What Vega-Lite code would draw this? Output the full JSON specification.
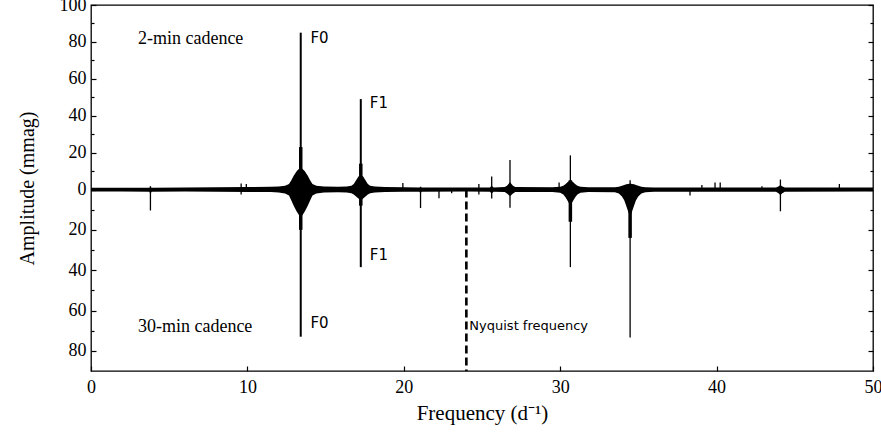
{
  "$schema": "https://vega.github.io/schema/vega-lite/v6.json",
  "width": 782,
  "height": 366,
  "autosize": "none",
  "padding": {"left": 91, "top": 5, "right": 8, "bottom": 63},
  "background": "white",
  "config": {
    "view": {"stroke": "black", "strokeWidth": 1.3},
    "axis": {
      "labelFont": "Liberation Serif, Times New Roman, Times, serif",
      "titleFont": "Liberation Serif, Times New Roman, Times, serif",
      "labelFontSize": 18,
      "titleFontSize": 20,
      "titleFontWeight": "normal",
      "labelColor": "black",
      "titleColor": "black",
      "tickColor": "black",
      "tickWidth": 1.2,
      "domain": false,
      "grid": false,
      "labelFlush": false,
      "labelOverlap": false
    }
  },
  "datasets": {
    "band": [
      {"f": 0, "hi": 1, "lo": -1}, {"f": 2, "hi": 1, "lo": -1}, {"f": 3.72, "hi": 1, "lo": -1.1},
      {"f": 3.8, "hi": 1.4, "lo": -2}, {"f": 3.88, "hi": 1, "lo": -1.1}, {"f": 6, "hi": 1.1, "lo": -1},
      {"f": 8, "hi": 1.2, "lo": -1.1}, {"f": 10, "hi": 1.3, "lo": -1.2}, {"f": 11.5, "hi": 1.5, "lo": -1.3},
      {"f": 12.0, "hi": 1.6, "lo": -1.5}, {"f": 12.41, "hi": 2, "lo": -2}, {"f": 12.66, "hi": 3, "lo": -3},
      {"f": 12.81, "hi": 5, "lo": -5.5}, {"f": 12.96, "hi": 7.5, "lo": -8}, {"f": 13.16, "hi": 10, "lo": -11},
      {"f": 13.41, "hi": 12, "lo": -14}, {"f": 13.66, "hi": 10, "lo": -11}, {"f": 13.86, "hi": 7.5, "lo": -8},
      {"f": 14.01, "hi": 5, "lo": -5.5}, {"f": 14.16, "hi": 3, "lo": -3}, {"f": 14.41, "hi": 2, "lo": -2},
      {"f": 14.9, "hi": 1.6, "lo": -1.5}, {"f": 15.8, "hi": 1.5, "lo": -1.4},
      {"f": 16.35, "hi": 1.6, "lo": -1.5}, {"f": 16.65, "hi": 2, "lo": -1.8}, {"f": 16.8, "hi": 3, "lo": -2.5},
      {"f": 16.95, "hi": 5, "lo": -3.5}, {"f": 17.1, "hi": 7, "lo": -4.5}, {"f": 17.25, "hi": 8, "lo": -5.5},
      {"f": 17.4, "hi": 7, "lo": -4.5}, {"f": 17.55, "hi": 5, "lo": -3.5}, {"f": 17.7, "hi": 3, "lo": -2.5},
      {"f": 17.85, "hi": 2, "lo": -1.8}, {"f": 18.15, "hi": 1.6, "lo": -1.5}, {"f": 18.8, "hi": 1.4, "lo": -1.3},
      {"f": 20, "hi": 1.2, "lo": -1.1}, {"f": 21, "hi": 1.1, "lo": -1.1}, {"f": 21.07, "hi": 1.4, "lo": -1.8},
      {"f": 21.14, "hi": 1.1, "lo": -1.1}, {"f": 24, "hi": 1.1, "lo": -1}, {"f": 25.5, "hi": 1.1, "lo": -1.1},
      {"f": 25.62, "hi": 2, "lo": -2}, {"f": 25.74, "hi": 1.1, "lo": -1.1}, {"f": 26.45, "hi": 1.3, "lo": -1.3},
      {"f": 26.6, "hi": 2, "lo": -2}, {"f": 26.72, "hi": 3.2, "lo": -2.8}, {"f": 26.79, "hi": 4, "lo": -3.2},
      {"f": 26.86, "hi": 3.2, "lo": -2.8}, {"f": 26.98, "hi": 2, "lo": -2}, {"f": 27.13, "hi": 1.3, "lo": -1.3},
      {"f": 29.5, "hi": 1.2, "lo": -1.3}, {"f": 30.0, "hi": 1.5, "lo": -1.6}, {"f": 30.2, "hi": 2, "lo": -2.5},
      {"f": 30.35, "hi": 3, "lo": -4}, {"f": 30.5, "hi": 4.2, "lo": -6}, {"f": 30.65, "hi": 5, "lo": -8},
      {"f": 30.8, "hi": 4.2, "lo": -6}, {"f": 30.95, "hi": 3, "lo": -4}, {"f": 31.1, "hi": 2, "lo": -2.5},
      {"f": 31.3, "hi": 1.5, "lo": -1.6}, {"f": 31.8, "hi": 1.2, "lo": -1.3},
      {"f": 33.5, "hi": 1.2, "lo": -1.4}, {"f": 33.75, "hi": 1.5, "lo": -2}, {"f": 33.95, "hi": 2, "lo": -3.5},
      {"f": 34.1, "hi": 2.5, "lo": -5.5}, {"f": 34.22, "hi": 2.8, "lo": -8}, {"f": 34.35, "hi": 3, "lo": -11},
      {"f": 34.47, "hi": 3.2, "lo": -13.5}, {"f": 34.59, "hi": 3, "lo": -11}, {"f": 34.72, "hi": 2.8, "lo": -8},
      {"f": 34.84, "hi": 2.5, "lo": -5.5}, {"f": 34.99, "hi": 2, "lo": -3.5}, {"f": 35.19, "hi": 1.5, "lo": -2},
      {"f": 35.45, "hi": 1.2, "lo": -1.4}, {"f": 36, "hi": 1.1, "lo": -1.1},
      {"f": 43.8, "hi": 1.1, "lo": -1.1}, {"f": 43.98, "hi": 1.8, "lo": -2}, {"f": 44.08, "hi": 2.5, "lo": -2.8},
      {"f": 44.18, "hi": 1.8, "lo": -2}, {"f": 44.36, "hi": 1.1, "lo": -1.1},
      {"f": 50, "hi": 1.1, "lo": -1}
    ],
    "spikes": [
      {"f": 3.8, "amp": 1.8}, {"f": 9.6, "amp": 3.3}, {"f": 9.93, "amp": 3}, {"f": 19.94, "amp": 3.5},
      {"f": 21.07, "amp": 1.5}, {"f": 24.8, "amp": 3}, {"f": 25.62, "amp": 7}, {"f": 26.79, "amp": 16},
      {"f": 29.93, "amp": 3.8}, {"f": 30.65, "amp": 18.5}, {"f": 34.47, "amp": 5}, {"f": 39.06, "amp": 2.5},
      {"f": 39.9, "amp": 3.8}, {"f": 40.23, "amp": 3.8}, {"f": 42.9, "amp": 1.8}, {"f": 44.08, "amp": 5.4},
      {"f": 47.85, "amp": 3}, {"f": 9.6, "amp": -2.5},
      {"f": 3.8, "amp": -10.4}, {"f": 21.07, "amp": -9.2}, {"f": 22.25, "amp": -4.3}, {"f": 23.06, "amp": -1.8},
      {"f": 24.8, "amp": -2.5}, {"f": 25.62, "amp": -4.5}, {"f": 26.79, "amp": -9}, {"f": 30.65, "amp": -38.5},
      {"f": 34.47, "amp": -73.4}, {"f": 38.3, "amp": -3}, {"f": 44.08, "amp": -10.8}
    ],
    "main": [
      {"f": 13.41, "amp": 85}, {"f": 13.41, "amp": -73}, {"f": 17.25, "amp": 49}, {"f": 17.25, "amp": -38.5}
    ],
    "core": [
      {"f": 13.41, "top": 23, "bot": -20}, {"f": 17.25, "top": 14, "bot": -8},
      {"f": 30.65, "top": 5, "bot": -16}, {"f": 34.47, "top": 3, "bot": -24}
    ],
    "nyquist": [{"f": 24, "top": 0, "bot": -90}],
    "cadence": [
      {"f": 3, "amp": 79, "label": "2-min cadence"},
      {"f": 3, "amp": -70.7, "label": "30-min cadence"}
    ],
    "modes": [
      {"f": 14.03, "amp": 79.5, "label": "F0"},
      {"f": 17.83, "amp": 44.3, "label": "F1"},
      {"f": 17.83, "amp": -34.9, "label": "F1"},
      {"f": 14.03, "amp": -68.8, "label": "F0"}
    ],
    "nyqlabel": [{"f": 24.19, "amp": -69.5, "label": "Nyquist frequency"}]
  },
  "resolve": {"axis": {"y": "independent"}},
  "layer": [
    {
      "data": {"name": "band"},
      "mark": {"type": "area", "color": "black", "interpolate": "linear"},
      "encoding": {
        "x": {
          "field": "f", "type": "quantitative",
          "scale": {"domain": [0, 50], "nice": false, "zero": false},
          "axis": {
            "values": [0, 10, 20, 30, 40, 50], "format": "d",
            "tickSize": -5, "labelPadding": 12,
            "title": "Frequency (d⁻¹)", "titlePadding": 6, "titleFontSize": 21
          }
        },
        "y": {
          "field": "hi", "type": "quantitative",
          "scale": {"type": "linear", "domain": [-90, 0, 100], "range": [366, 184.5, 0], "nice": false, "zero": false},
          "axis": {
            "orient": "left",
            "values": [-80, -70, -60, -50, -40, -30, -20, -10, 0, 10, 20, 30, 40, 50, 60, 70, 80, 90, 100],
            "tickSize": {"condition": {"test": "datum.value % 20 === 0", "value": -5}, "value": -3},
            "labelExpr": "datum.value % 20 === 0 ? '' + abs(datum.value) : ''",
            "labelPadding": 10,
            "title": "Amplitude (mmag)", "titlePadding": 22
          }
        },
        "y2": {"field": "lo"}
      }
    },
    {
      "data": {"name": "spikes"},
      "mark": {"type": "rule", "color": "black", "strokeWidth": 1.3},
      "encoding": {
        "x": {"field": "f", "type": "quantitative"},
        "y": {
          "field": "amp", "type": "quantitative",
          "scale": {"type": "linear", "domain": [-90, 0, 100], "range": [366, 184.5, 0], "nice": false, "zero": false},
          "axis": {
            "orient": "right",
            "values": [-80, -70, -60, -50, -40, -30, -20, -10, 0, 10, 20, 30, 40, 50, 60, 70, 80, 90, 100],
            "tickSize": {"condition": {"test": "datum.value % 20 === 0", "value": -5}, "value": -3},
            "labels": false, "title": null
          }
        },
        "y2": {"datum": 0}
      }
    },
    {
      "data": {"name": "main"},
      "mark": {"type": "rule", "color": "black", "strokeWidth": 2},
      "encoding": {
        "x": {"field": "f", "type": "quantitative"},
        "y": {"field": "amp", "type": "quantitative", "axis": null},
        "y2": {"datum": 0}
      }
    },
    {
      "data": {"name": "core"},
      "mark": {"type": "rule", "color": "black", "strokeWidth": 3.5},
      "encoding": {
        "x": {"field": "f", "type": "quantitative"},
        "y": {"field": "top", "type": "quantitative", "axis": null},
        "y2": {"field": "bot"}
      }
    },
    {
      "data": {"name": "nyquist"},
      "mark": {"type": "rule", "color": "black", "strokeWidth": 2.6, "strokeDash": [8, 4]},
      "encoding": {
        "x": {"field": "f", "type": "quantitative"},
        "y": {"field": "top", "type": "quantitative", "axis": null},
        "y2": {"field": "bot"}
      }
    },
    {
      "data": {"name": "cadence"},
      "mark": {"type": "text", "font": "Liberation Serif, Times New Roman, Times, serif", "fontSize": 18, "align": "left", "baseline": "alphabetic", "color": "black"},
      "encoding": {
        "x": {"field": "f", "type": "quantitative"},
        "y": {"field": "amp", "type": "quantitative", "axis": null},
        "text": {"field": "label"}
      }
    },
    {
      "data": {"name": "modes"},
      "mark": {"type": "text", "font": "DejaVu Sans", "fontSize": 15, "align": "left", "baseline": "alphabetic", "color": "black"},
      "encoding": {
        "x": {"field": "f", "type": "quantitative"},
        "y": {"field": "amp", "type": "quantitative", "axis": null},
        "text": {"field": "label"}
      }
    },
    {
      "data": {"name": "nyqlabel"},
      "mark": {"type": "text", "font": "DejaVu Sans", "fontSize": 13, "align": "left", "baseline": "alphabetic", "color": "black"},
      "encoding": {
        "x": {"field": "f", "type": "quantitative"},
        "y": {"field": "amp", "type": "quantitative", "axis": null},
        "text": {"field": "label"}
      }
    }
  ]
}
